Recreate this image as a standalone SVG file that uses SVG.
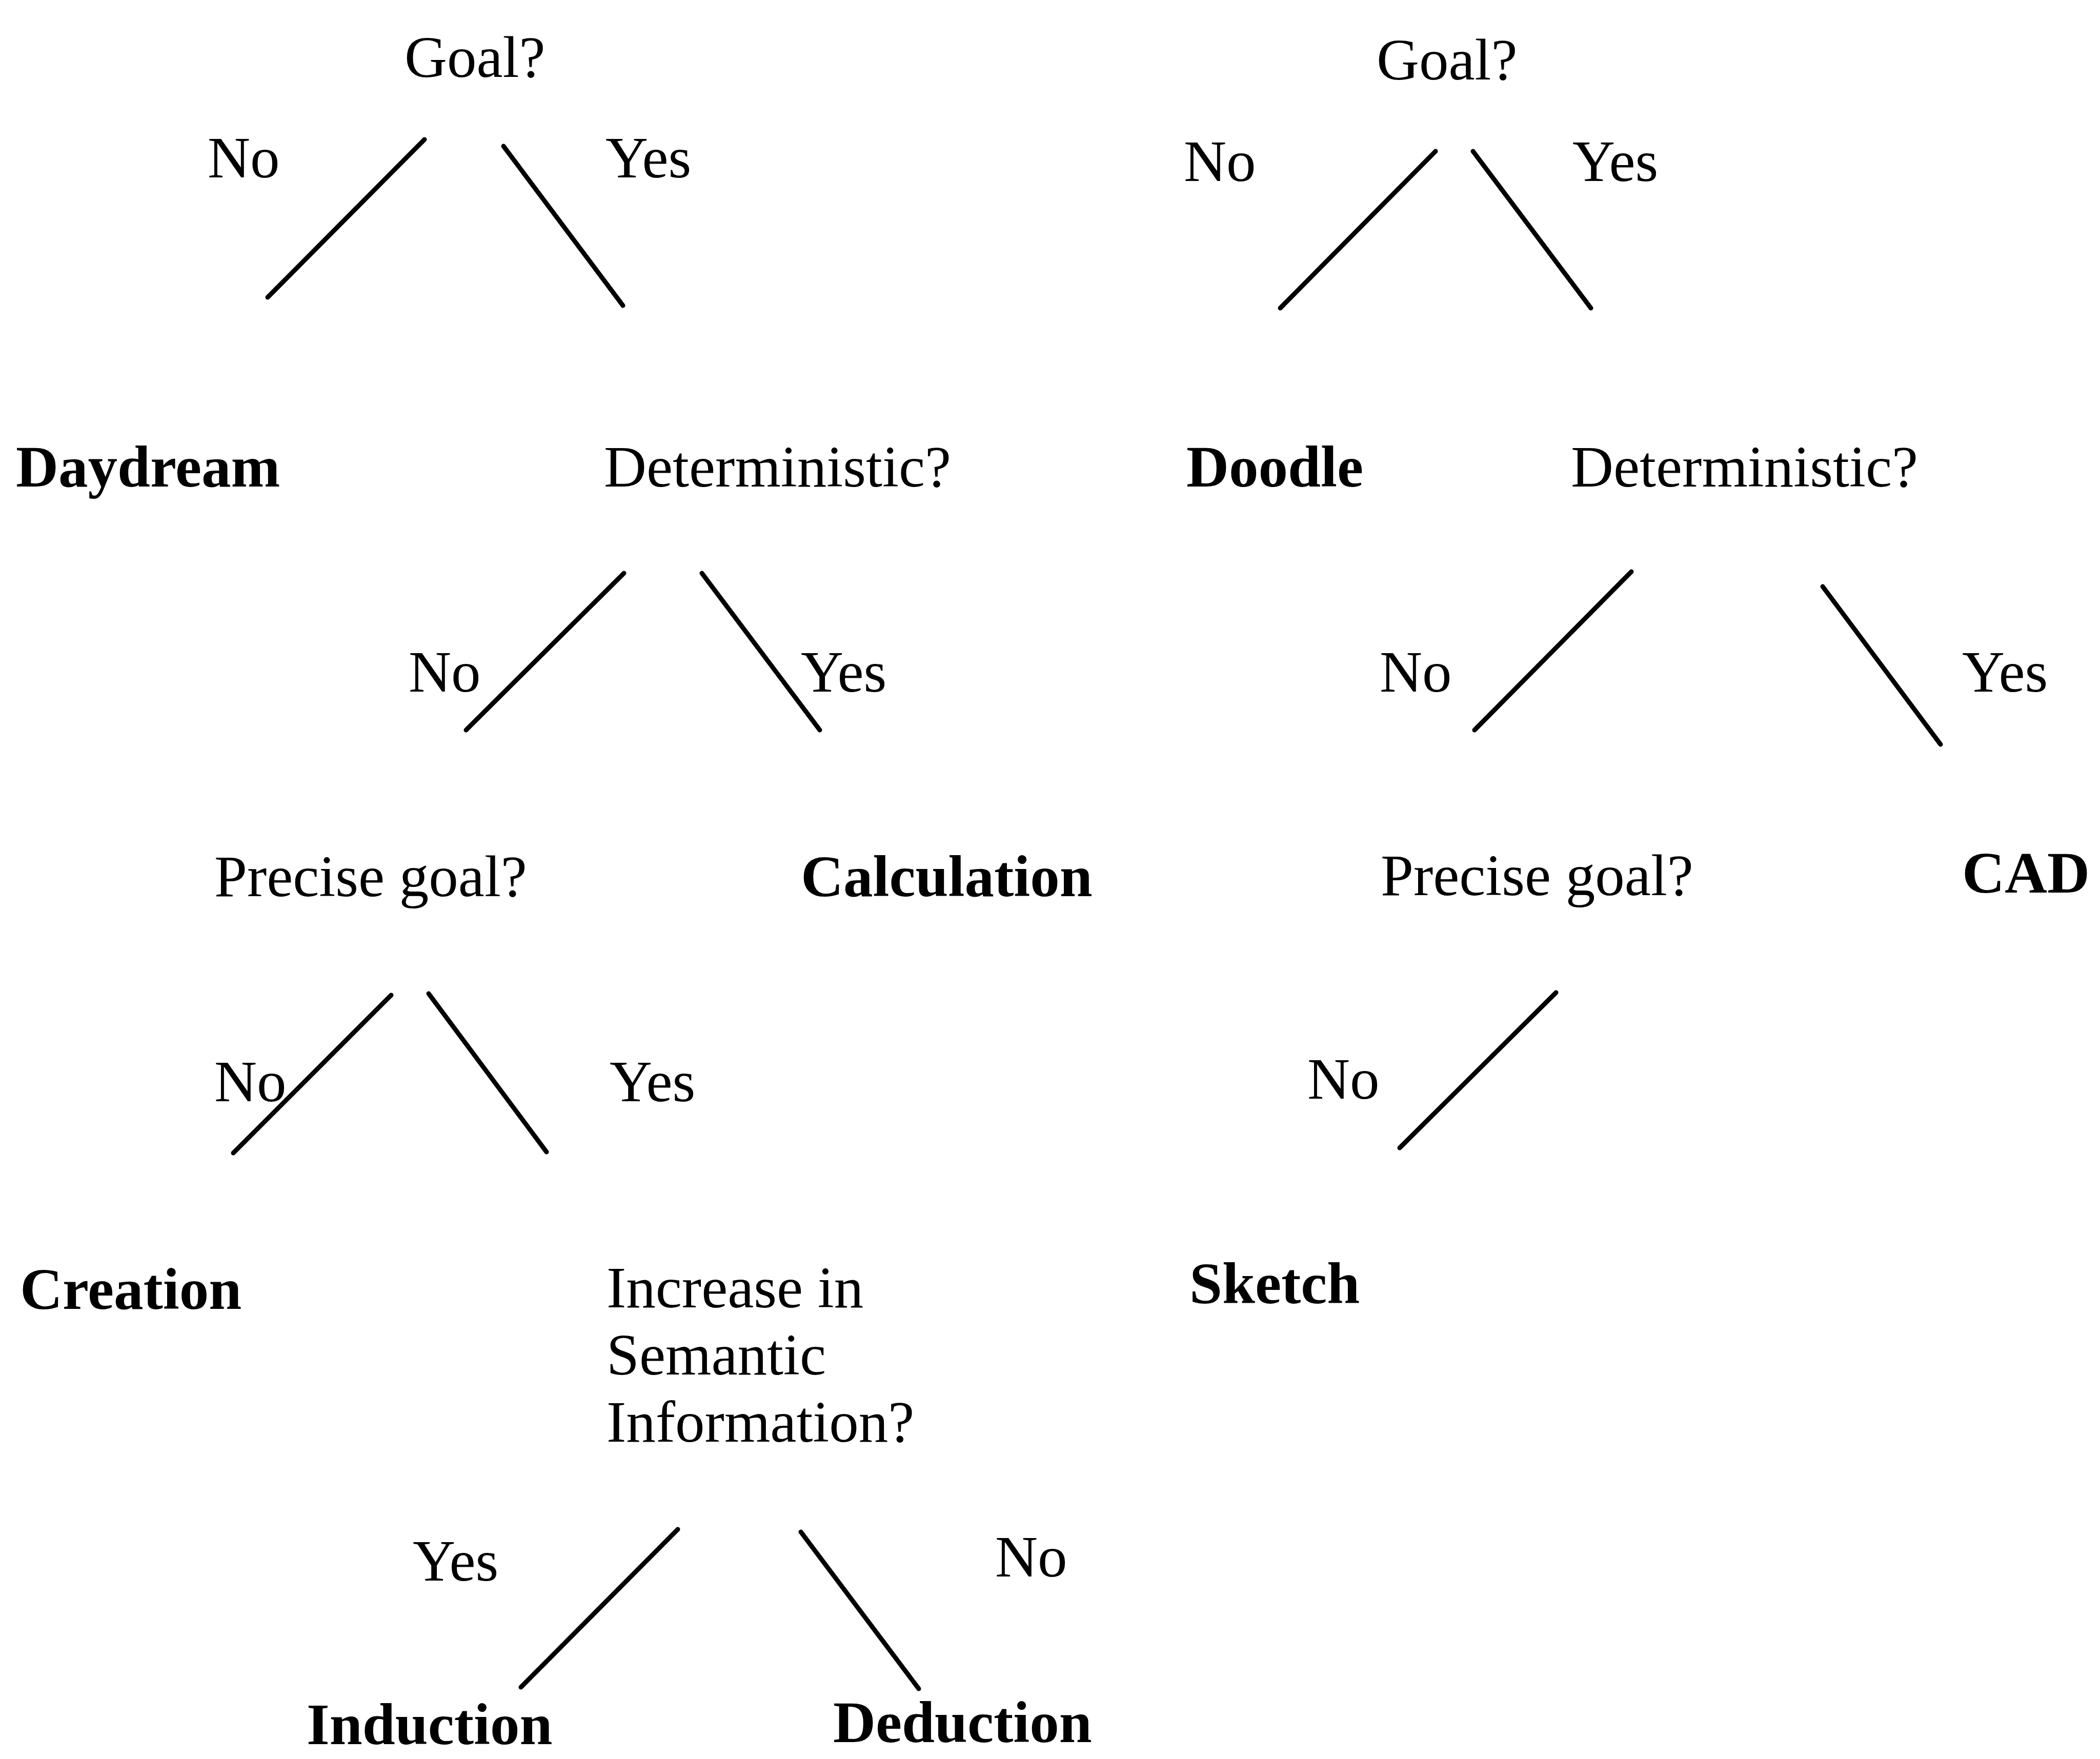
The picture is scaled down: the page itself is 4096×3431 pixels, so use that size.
<svg xmlns="http://www.w3.org/2000/svg" width="4096" height="3431" viewBox="0 0 4096 3431">
<style>
text{font-family:"Liberation Serif","Times New Roman",serif;font-size:115px;fill:#000}
.b{font-weight:bold}
line{stroke:#000;stroke-width:9;stroke-linecap:round}
</style>
<rect width="4096" height="3431" fill="#fff"/>
<g id="connectors">
<line x1="828" y1="272" x2="522" y2="580"/>
<line x1="982" y1="285" x2="1215" y2="596"/>
<line x1="1217" y1="1118" x2="909" y2="1424"/>
<line x1="1369" y1="1118" x2="1599" y2="1424"/>
<line x1="763" y1="1941" x2="455" y2="2249"/>
<line x1="836" y1="1938" x2="1066" y2="2247"/>
<line x1="1322" y1="2983" x2="1016" y2="3291"/>
<line x1="1562" y1="2988" x2="1792" y2="3294"/>
<line x1="2800" y1="295" x2="2497" y2="601"/>
<line x1="2873" y1="295" x2="3103" y2="601"/>
<line x1="3182" y1="1115" x2="2876" y2="1424"/>
<line x1="3555" y1="1144" x2="3785" y2="1452"/>
<line x1="3035" y1="1936" x2="2730" y2="2239"/>
</g>
<g id="labels">
<text x="405" y="346">No</text>
<text x="1181" y="346">Yes</text>
<text x="797" y="1349">No</text>
<text x="1562" y="1349">Yes</text>
<text x="418" y="2148">No</text>
<text x="1189" y="2148">Yes</text>
<text x="805" y="3083">Yes</text>
<text x="1941" y="3075">No</text>
<text x="2309" y="353">No</text>
<text x="3067" y="353">Yes</text>
<text x="2691" y="1349">No</text>
<text x="3827" y="1349">Yes</text>
<text x="2550" y="2143">No</text>
</g>
<g id="n-goal1"><text x="789" y="150">Goal?</text></g>
<g id="n-daydream"><text class="b" x="31" y="949">Daydream</text></g>
<g id="n-det1"><text x="1178" y="949">Deterministic?</text></g>
<g id="n-precise1"><text x="418" y="1748">Precise goal?</text></g>
<g id="n-calculation"><text class="b" x="1562" y="1748">Calculation</text></g>
<g id="n-creation"><text class="b" x="39" y="2553">Creation</text></g>
<g id="n-increase"><text x="1183" y="2550">Increase in</text><text x="1183" y="2681">Semantic</text><text x="1183" y="2812">Information?</text></g>
<g id="n-induction"><text class="b" x="598" y="3402">Induction</text></g>
<g id="n-deduction"><text class="b" x="1625" y="3398">Deduction</text></g>
<g id="n-goal2"><text x="2685" y="155">Goal?</text></g>
<g id="n-doodle"><text class="b" x="2314" y="949">Doodle</text></g>
<g id="n-det2"><text x="3064" y="949">Deterministic?</text></g>
<g id="n-precise2"><text x="2693" y="1746">Precise goal?</text></g>
<g id="n-cad"><text class="b" x="3827" y="1741">CAD</text></g>
<g id="n-sketch"><text class="b" x="2320" y="2542">Sketch</text></g>
</svg>
